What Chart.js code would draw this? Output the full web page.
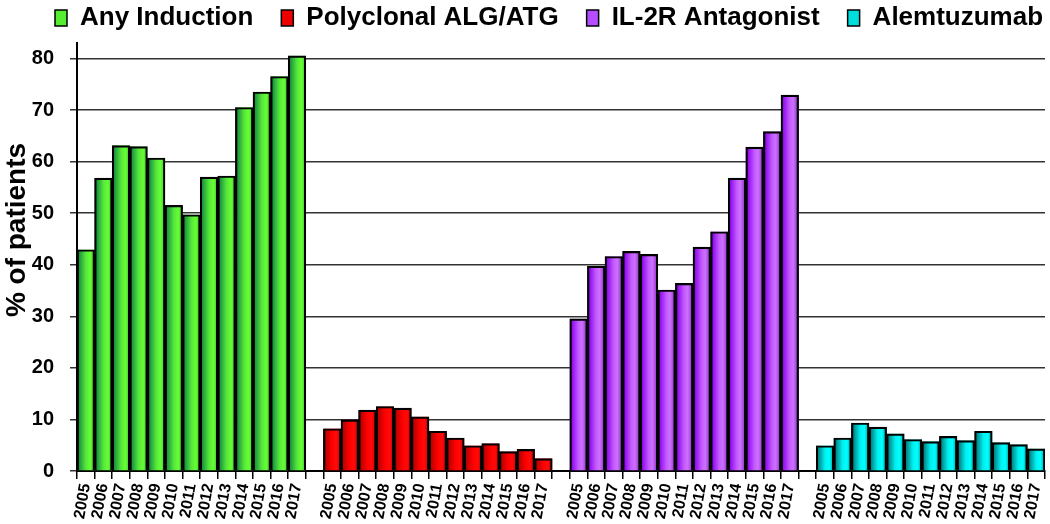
<!DOCTYPE html>
<html>
<head>
<meta charset="utf-8">
<script src="https://cdn.jsdelivr.net/npm/chart.js@4/dist/chart.umd.min.js"></script>
<style>
  html, body { margin: 0; padding: 0; background: #ffffff; }
  #wrap { width: 1050px; height: 524px; position: relative; }
</style>
</head>
<body>
<div id="wrap"><canvas id="c"></canvas></div>
<script>
// ---- data ----
const years = ['2005','2006','2007','2008','2009','2010','2011','2012','2013','2014','2015','2016','2017'];
const seriesNames = ['Any Induction', 'Polyclonal ALG/ATG', 'IL-2R Antagonist', 'Alemtuzumab'];
const anyInduction = [42.9, 56.8, 63.1, 62.9, 60.7, 51.5, 49.7, 57.0, 57.2, 70.5, 73.5, 76.5, 80.5];
const polyclonal   = [8.2, 9.9, 11.8, 12.5, 12.2, 10.5, 7.7, 6.4, 4.9, 5.3, 3.75, 4.2, 2.4];
const il2r         = [29.5, 39.7, 41.6, 42.6, 42.0, 35.1, 36.4, 43.4, 46.4, 56.8, 62.8, 65.8, 72.9];
const alemtuzumab  = [4.9, 6.4, 9.3, 8.5, 7.2, 6.1, 5.7, 6.7, 5.9, 7.7, 5.5, 5.1, 4.3];
const yTicks = [0, 10, 20, 30, 40, 50, 60, 70, 80];

// ---- category axis: 4 groups of 13 years separated by one empty slot ----
const groups = [anyInduction, polyclonal, il2r, alemtuzumab];
const labels = [];
groups.forEach((g, gi) => {
  if (gi > 0) labels.push('');
  years.forEach(y => labels.push(y));
});
const N = labels.length;
function placed(gi) {
  const arr = new Array(N).fill(null);
  const start = gi * (years.length + 1);
  groups[gi].forEach((v, i) => { arr[start + i] = v; });
  return arr;
}

const palettes = [
  { solid: '#55ee33', stops: [[0, '#0f6e30'], [0.15, '#1f9a3e'], [0.5, '#55e63a'], [0.75, '#66ff33'], [1, '#3fc23a']] },
  { solid: '#ee0000', stops: [[0, '#8c0000'], [0.15, '#c00000'], [0.5, '#ff0000'], [0.75, '#ff0a0a'], [1, '#c00000']] },
  { solid: '#b44dff', stops: [[0, '#7a00cc'], [0.15, '#9410f0'], [0.5, '#c45cff'], [0.7, '#cc70ff'], [1, '#8228b8']] },
  { solid: '#00dddd', stops: [[0, '#006464'], [0.15, '#008e8e'], [0.5, '#00f0f0'], [0.75, '#00ffff'], [1, '#009090']] }
];

const FONT = "'Liberation Sans', Arial, Helvetica, sans-serif";

const datasets = seriesNames.map((name, gi) => ({
  label: name,
  data: placed(gi),
  backgroundColor: 'rgba(0,0,0,0)',
  borderColor: '#000000',
  borderWidth: 1.5,
  borderSkipped: 'bottom',
  grouped: false,
  barPercentage: 1.0,
  categoryPercentage: 1.0
}));

const layoutTweaks = {
  id: 'layoutTweaks',
  beforeInit(chart) {
    const lg = chart.legend;
    if (lg) {
      const origFit = lg.fit;
      lg.fit = function () {
        this.maxWidth = 1400;
        origFit.call(this);
        this.height = 43;
      };
    }
  },
  afterLayout(chart) {
    const lg = chart.legend;
    if (lg) {
      lg.top = -23;
      lg.left = 27;
      lg.right = 1400;
      lg.width = lg.right - lg.left;
    }
    const ys = chart.scales.y;
    if (ys && !ys._titleShifted) {
      const orig = ys.drawTitle;
      ys.drawTitle = function () {
        const c = this.ctx;
        c.save();
        c.translate(0, -27);
        orig.apply(this, arguments);
        c.restore();
      };
      ys._titleShifted = true;
    }
  },
  // fill each bar (using the library's computed bar geometry) with a horizontal gradient
  beforeDatasetDraw(chart, args) {
    const meta = args.meta;
    const p = palettes[args.index];
    const ctx = chart.ctx;
    ctx.save();
    meta.data.forEach((el, i) => {
      const raw = chart.data.datasets[args.index].data[i];
      if (raw === null || raw === undefined) return;
      const { x, y, base, width } = el.getProps(['x', 'y', 'base', 'width'], true);
      const g = ctx.createLinearGradient(x - width / 2, 0, x + width / 2, 0);
      p.stops.forEach(s => g.addColorStop(s[0], s[1]));
      ctx.fillStyle = g;
      ctx.fillRect(x - width / 2, Math.min(y, base), width, Math.abs(base - y));
    });
    ctx.restore();
  }
};

new Chart(document.getElementById('c'), {
  type: 'bar',
  data: { labels, datasets },
  plugins: [layoutTweaks],
  options: {
    responsive: true,
    maintainAspectRatio: false,
    animation: false,
    devicePixelRatio: 1,
    layout: { padding: { left: 0, right: 5, top: 0, bottom: 0 } },
    plugins: {
      tooltip: { enabled: false },
      legend: {
        position: 'top',
        align: 'start',
        labels: {
          color: '#000000',
          font: { family: FONT, size: 26, weight: 'bold' },
          boxWidth: 12,
          boxHeight: 16,
          padding: 28,
          generateLabels: (chart) => chart.data.datasets.map((ds, i) => ({
            text: ds.label,
            fillStyle: palettes[i].solid,
            strokeStyle: '#000000',
            lineWidth: 1.5,
            hidden: false,
            datasetIndex: i,
            fontColor: '#000000'
          }))
        }
      }
    },
    scales: {
      x: {
        offset: true,
        afterFit: (axis) => { axis.height = 53; axis.paddingLeft = 0; axis.paddingRight = 0; },
        grid: {
          display: true,
          offset: true,
          drawOnChartArea: false,
          drawTicks: true,
          tickLength: 8,
          color: '#000000',
          lineWidth: 1.5
        },
        border: { display: true, color: '#000000', width: 2 },
        ticks: {
          autoSkip: false,
          maxRotation: 80,
          minRotation: 80,
          padding: 3,
          color: '#000000',
          font: { family: FONT, size: 16, weight: 'bold' }
        }
      },
      y: {
        min: 0,
        max: 83,
        afterBuildTicks: (axis) => { axis.ticks = yTicks.map(v => ({ value: v })); },
        afterFit: (axis) => { axis.width = 77; },
        grid: {
          display: true,
          color: '#333333',
          lineWidth: 1.5,
          drawTicks: true,
          tickLength: 7
        },
        border: { display: true, color: '#000000', width: 2 },
        ticks: {
          color: '#000000',
          padding: 16,
          font: { family: FONT, size: 20, weight: 'bold' }
        },
        title: {
          display: true,
          text: '% of patients',
          color: '#000000',
          padding: { top: 0, bottom: 0 },
          font: { family: FONT, size: 28, weight: 'bold' }
        }
      }
    }
  }
});
</script>
</body>
</html>
